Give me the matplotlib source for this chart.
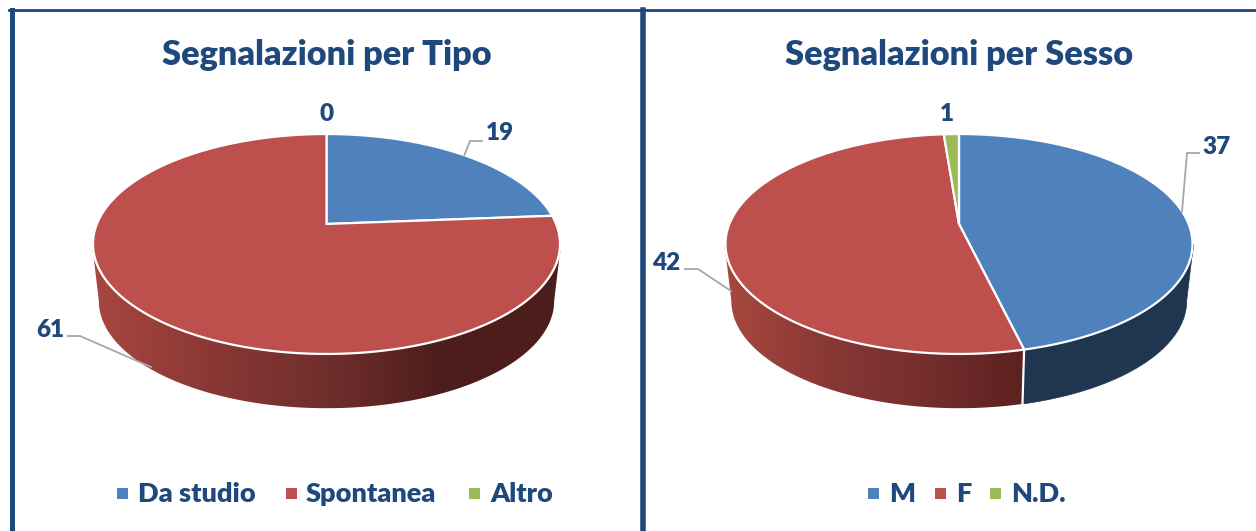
#!/usr/bin/env python
# -*- coding: utf8 -*-
import numpy as np
import matplotlib
matplotlib.use('Agg')
import matplotlib.pyplot as plt
from matplotlib.patches import Polygon, Rectangle
from matplotlib.colors import LinearSegmentedColormap

# dati
tipo_labels = ['Da studio', 'Spontanea', 'Altro']
tipo_values = [19, 61, 0]
sesso_labels = ['M', 'F', 'N.D.']
sesso_values = [37, 42, 1]

BLUE = '#4f81bd'
RED = '#bd4f4c'
GREEN = '#9bbb59'
NAVY = '#1f497d'
slice_colors = [BLUE, RED, GREEN]

plt.rcParams['font.family'] = ['Lato', 'DejaVu Sans']

fig = plt.figure(figsize=(12.56, 5.31), dpi=100)
ax = fig.add_axes([0, 0, 1, 1])

# prospettiva: il centro del disco non coincide col centro dell'ellisse
C = 0.1818
R = 229.6
APEX = 224.0
A = -65.6
DEPTH_SCALE = 0.975
DEPTH_SHIFT = 57.0
MID_Y = 244.0
SIDE_OUT = 1.004  # il lato sporge appena oltre il bordo bianco
FRONT = np.arccos(-C)  # angolo del bordo visibile


def top_rim(cx, th):
    u, v = np.sin(th), np.cos(th)
    w = 1 + C * v
    return cx + R * u / w, (A * v + APEX) / w


def low_rim(cx, th):
    x, y = top_rim(cx, th)
    return cx + (x - cx) * DEPTH_SCALE, MID_Y + DEPTH_SHIFT + (y - MID_Y) * DEPTH_SCALE


def side_polygon(cx, a, b):
    th = np.linspace(a, b, 200)
    x1, y1 = top_rim(cx, th)
    x1 = cx + (x1 - cx) * SIDE_OUT
    x2, y2 = low_rim(cx, th)
    return np.column_stack([np.r_[x1, x2[::-1]], np.r_[y1, y2[::-1]]])


def gradient_side(cx, a, b, x0, x1, stops):
    # lato con sfumatura orizzontale
    poly = Polygon(side_polygon(cx, a, b), closed=True, fc='none', ec='none', zorder=2)
    ax.add_patch(poly)
    cmap = LinearSegmentedColormap.from_list('side', stops)
    im = ax.imshow(np.linspace(0, 1, 256).reshape(1, -1), cmap=cmap, extent=(x0, x1, 420, 230),
                   aspect='auto', zorder=2, interpolation='bilinear')
    im.set_clip_path(poly)


def pie3d(cx, values, side_style):
    total = float(sum(values))
    edges = 2 * np.pi * np.r_[0, np.cumsum(values)] / total

    # lati
    for i, style in enumerate(side_style):
        a = max(edges[i], FRONT)
        b = min(edges[i + 1], 2 * np.pi - FRONT)
        if b <= a:
            continue
        if isinstance(style, str):
            ax.add_patch(Polygon(side_polygon(cx, a, b), closed=True, fc=style, ec=style, lw=0.5, zorder=2))
        else:
            gradient_side(cx, a, b, style[0], style[1], style[2])
    for e in edges[1:-1]:
        if FRONT < e < 2 * np.pi - FRONT:
            x1, y1 = top_rim(cx, e)
            x2, y2 = low_rim(cx, e)
            ax.plot([x1, x2], [y1, y2], color='white', lw=1.6, zorder=3)

    # disco superiore
    for i, val in enumerate(values):
        if val == 0:
            continue
        th = np.linspace(edges[i], edges[i + 1], 300)
        x, y = top_rim(cx, th)
        pts = np.column_stack([np.r_[cx, x], np.r_[APEX, y]])
        ax.add_patch(Polygon(pts, closed=True, fc=slice_colors[i], ec='white', lw=1.6,
                             joinstyle='round', zorder=4))


def leader(xs, ys):
    ax.plot(xs, ys, color='#a6a6a6', lw=1.3, zorder=5, solid_joinstyle='round')


def text(x, y, s, size=17.5):
    ax.text(x, y, s, color=NAVY, fontsize=size, fontweight='heavy', ha='center', va='center', zorder=6)


def legend(labels, mark_x, text_x):
    for lab, mx, tx, col in zip(labels, mark_x, text_x, slice_colors):
        ax.add_patch(Rectangle((mx - 5.5, 493 - 5.5), 11, 11, fc=col, ec='none', zorder=6))
        ax.text(tx, 494.5, lab, color=NAVY, fontsize=19.5, fontweight='heavy', ha='left', va='center', zorder=6)


LEFT_CX = 326.5
RIGHT_CX = 959.0

pie3d(LEFT_CX, tipo_values,
      ['#1f3550',
       (LEFT_CX - 236, LEFT_CX + 236, ['#a8483f', '#8a3835', '#6f2e2c', '#4c1d1b', '#4d1e1c']),
       '#4d1e1c'])
pie3d(RIGHT_CX, sesso_values,
      ['#1f3550',
       (RIGHT_CX - 236, RIGHT_CX + 65, ['#a8483f', '#8a3835', '#742e2d', '#5c2120']),
       '#4d6129'])

text(327, 55, 'Segnalazioni per Tipo', 24.7)
text(959, 55, 'Segnalazioni per Sesso', 24.7)

text(326.5, 114, str(tipo_values[2]))
text(500, 133, str(tipo_values[0]))
text(50, 330, str(tipo_values[1]))
leader([464, 470, 482], [156, 141, 141])
leader([68, 80, 151], [336, 336, 367])

text(947, 114, str(sesso_values[2]))
text(1217, 147, str(sesso_values[0]))
text(666, 263, str(sesso_values[1]))
leader([1199, 1187, 1182], [153, 153, 212])
leader([685, 698, 731], [269, 269, 291])

legend(tipo_labels, [122, 291, 474], [138, 306, 490])
legend(sesso_labels, [873, 940, 995], [889, 956, 1011])

# cornice
ax.plot([11.5, 11.5], [10, 531], color=NAVY, lw=3.6, zorder=7)
ax.plot([9, 1256], [10.2, 10.2], color=NAVY, lw=2.0, zorder=7)
ax.plot([642.7, 642.7], [10, 531], color=NAVY, lw=4, zorder=7)

ax.set_xlim(0, 1256)
ax.set_ylim(531, 0)
ax.axis('off')
fig.savefig('out.png', dpi=100)
